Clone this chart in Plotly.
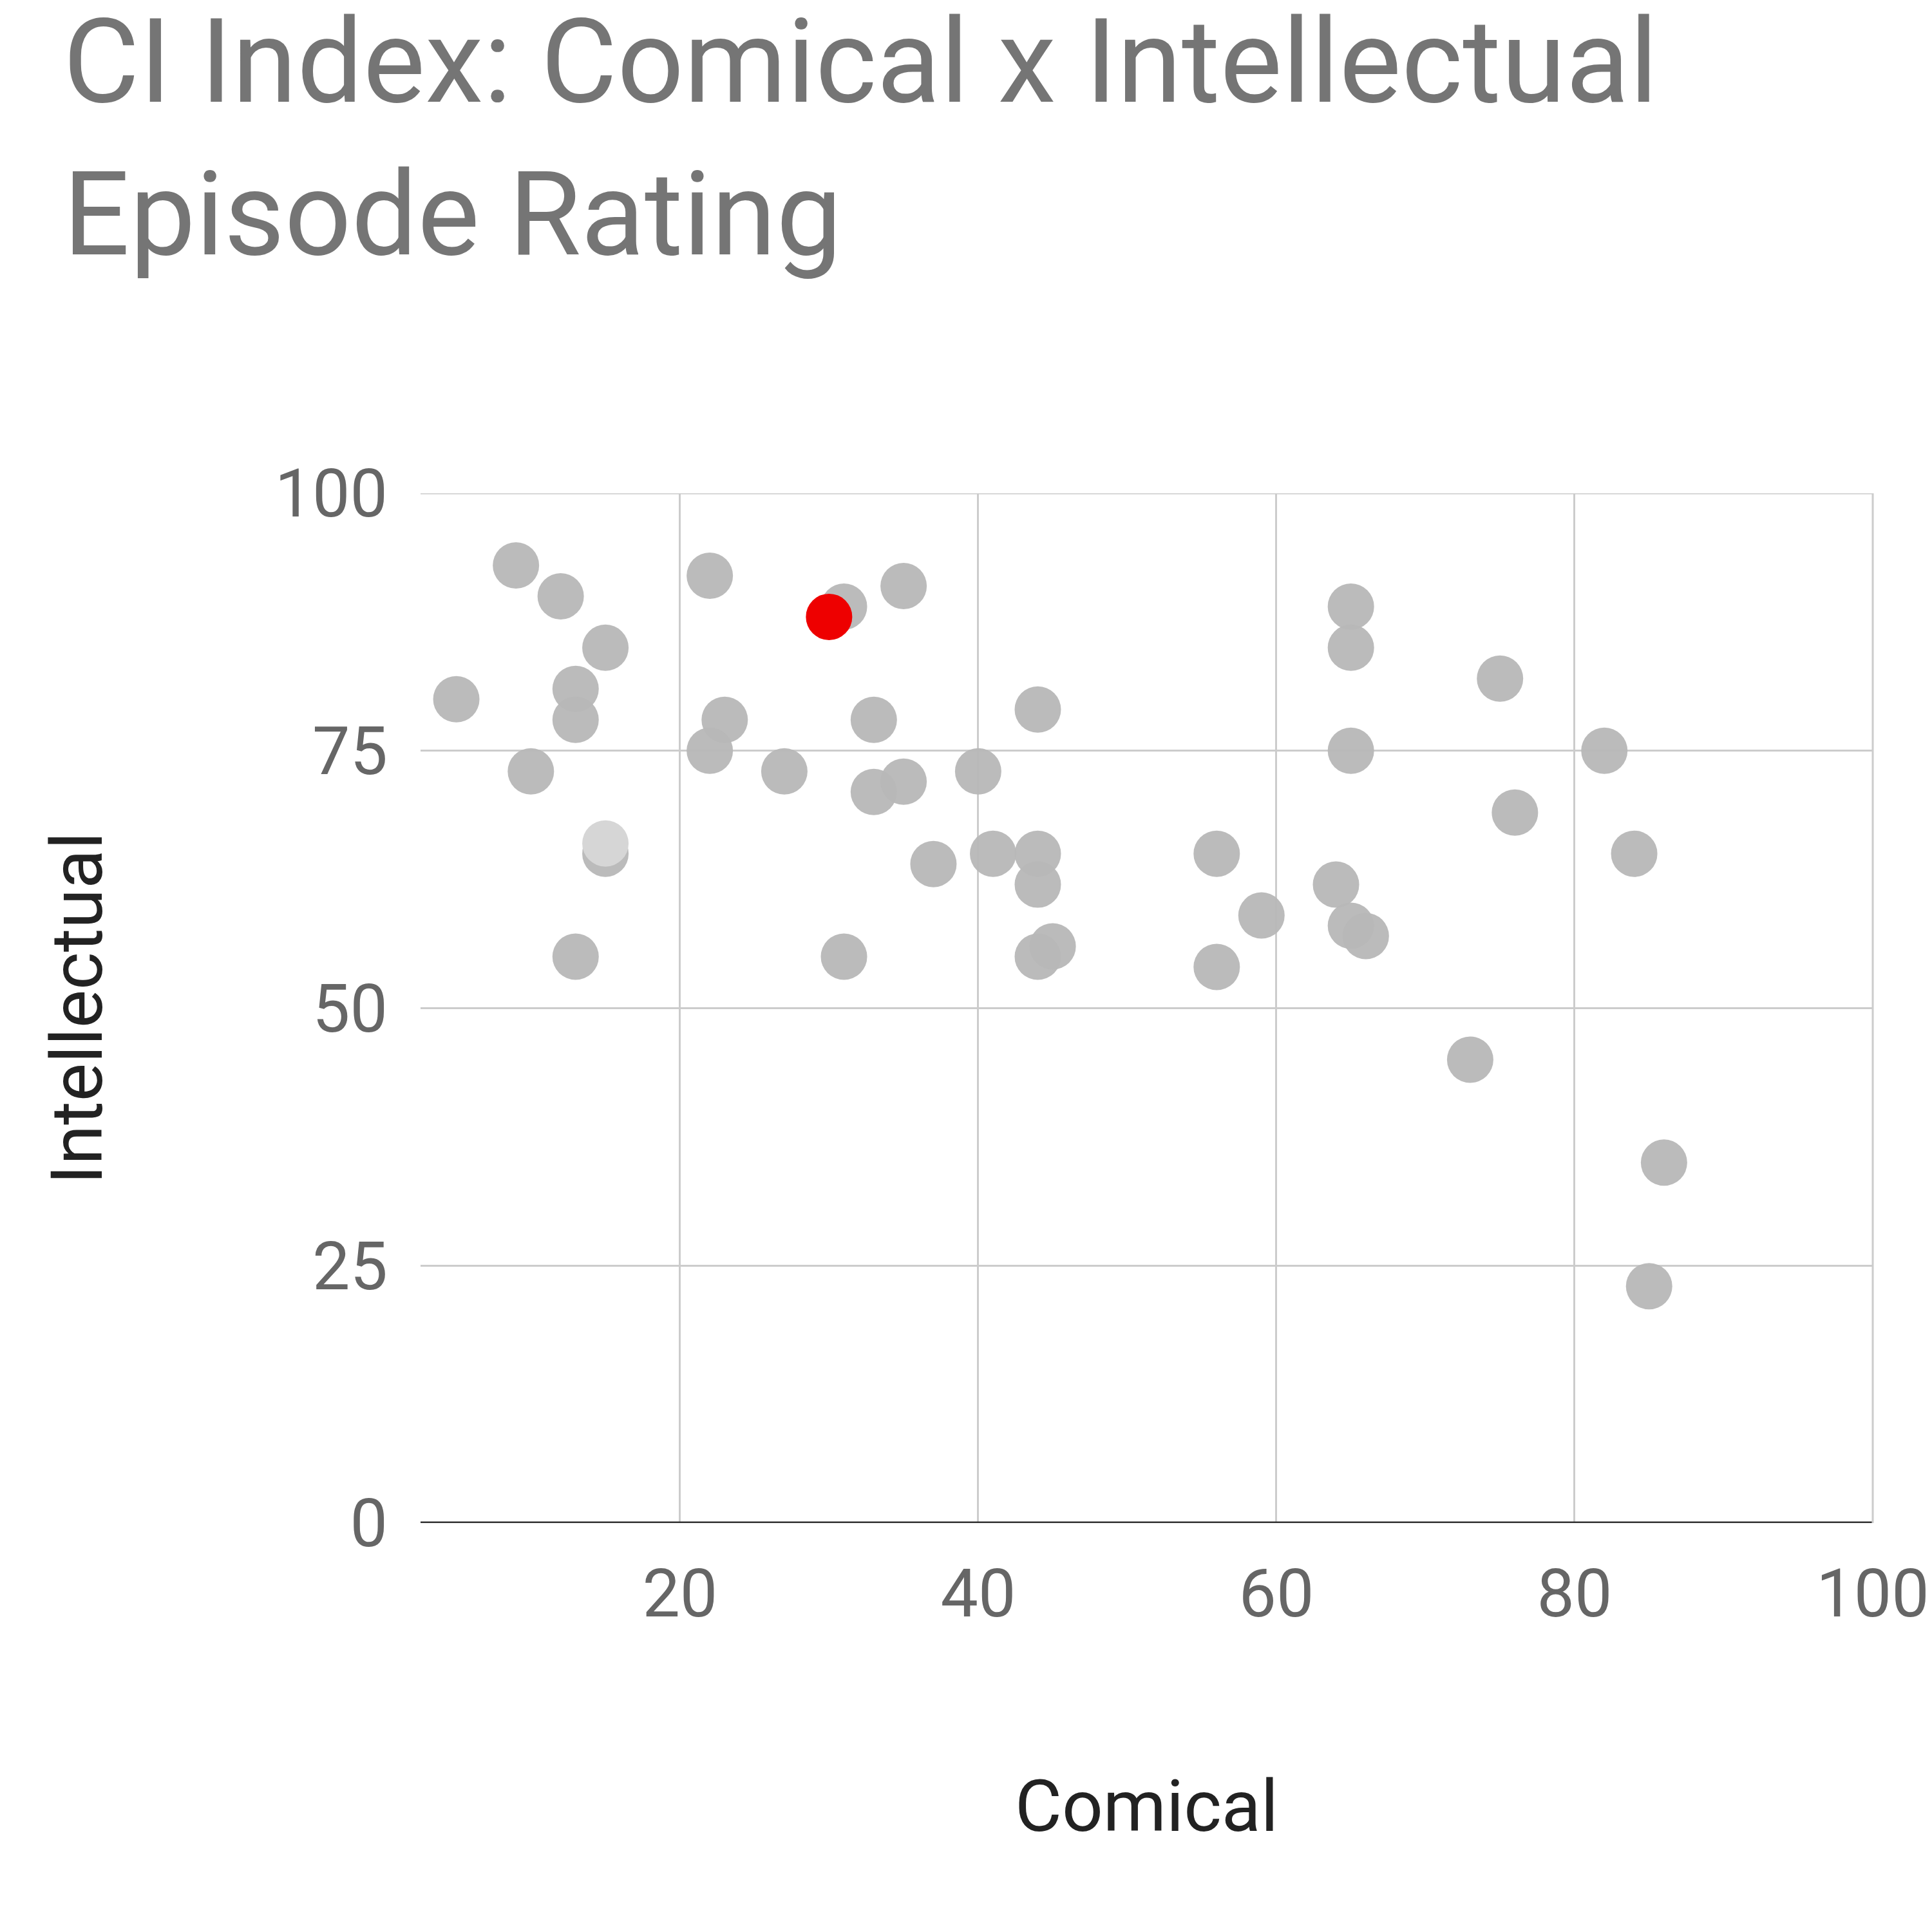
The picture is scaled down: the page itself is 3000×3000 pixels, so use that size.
import plotly.graph_objects as go

comical = [9,12,15,5,13,13,10,15,13,22,23,22,27,31,35,33,33,35,37,40,41,31,44,44,44,44,45,56,56,59,65,65,65,64,65,66,75,76,82,84,73,86,85]
intellectual = [93,90,85,80,81,78,73,65,55,92,78,75,73,89,91,78,71,72,64,73,65,55,79,65,62,55,56,65,54,59,89,85,75,62,58,57,82,69,75,65,45,35,23]
light_x = [15]
light_y = [66]
highlight_x = [30]
highlight_y = [88]

fig = go.Figure()
fig.add_trace(go.Scatter(x=comical, y=intellectual, mode="markers",
    marker=dict(size=72, color="#b7b7b7", opacity=0.95, line=dict(width=0))))
fig.add_trace(go.Scatter(x=light_x, y=light_y, mode="markers",
    marker=dict(size=72, color="#d6d6d6", line=dict(width=0))))
fig.add_trace(go.Scatter(x=highlight_x, y=highlight_y, mode="markers",
    marker=dict(size=72, color="#ee0000", line=dict(width=0))))

fig.update_layout(
    width=3000, height=3000, showlegend=False,
    paper_bgcolor="white", plot_bgcolor="white",
    font=dict(family="Roboto", color="#666666"),
    title=dict(text="CI Index: Comical x Intellectual<br>Episode Rating", x=0.03, xanchor="left",
               y=0.95, yanchor="top", yref="container", font=dict(size=182, color="#757575")),
    margin=dict(l=645, r=98, t=758, b=643),
    xaxis=dict(range=[2.6, 100], tickvals=[20,40,60,80,100], showgrid=True, gridcolor="#cccccc",
               gridwidth=3, zeroline=False, tickfont=dict(size=104, color="#666666"),
               ticklabelstandoff=40,
               title=dict(text="Comical", font=dict(size=112, color="#222222"), standoff=230),
               showline=False, mirror=False),
    yaxis=dict(range=[0, 100], tickvals=[0,25,50,75,100], showgrid=True, gridcolor="#cccccc",
               gridwidth=3, zeroline=False, tickfont=dict(size=104, color="#666666"),
               ticklabelstandoff=50,
               title=dict(text="Intellectual", font=dict(size=112, color="#222222"), standoff=230)),
)
fig.add_shape(type="line", xref="paper", yref="y", x0=0, x1=1, y0=0, y1=0,
              line=dict(color="#333333", width=5))
fig.add_shape(type="line", xref="paper", yref="y", x0=0, x1=1, y0=100, y1=100,
              line=dict(color="#cccccc", width=3), layer="below")
fig.add_shape(type="line", xref="paper", yref="paper", x0=1, x1=1, y0=0, y1=1,
              line=dict(color="#cccccc", width=3))
fig.write_html("out.html")
